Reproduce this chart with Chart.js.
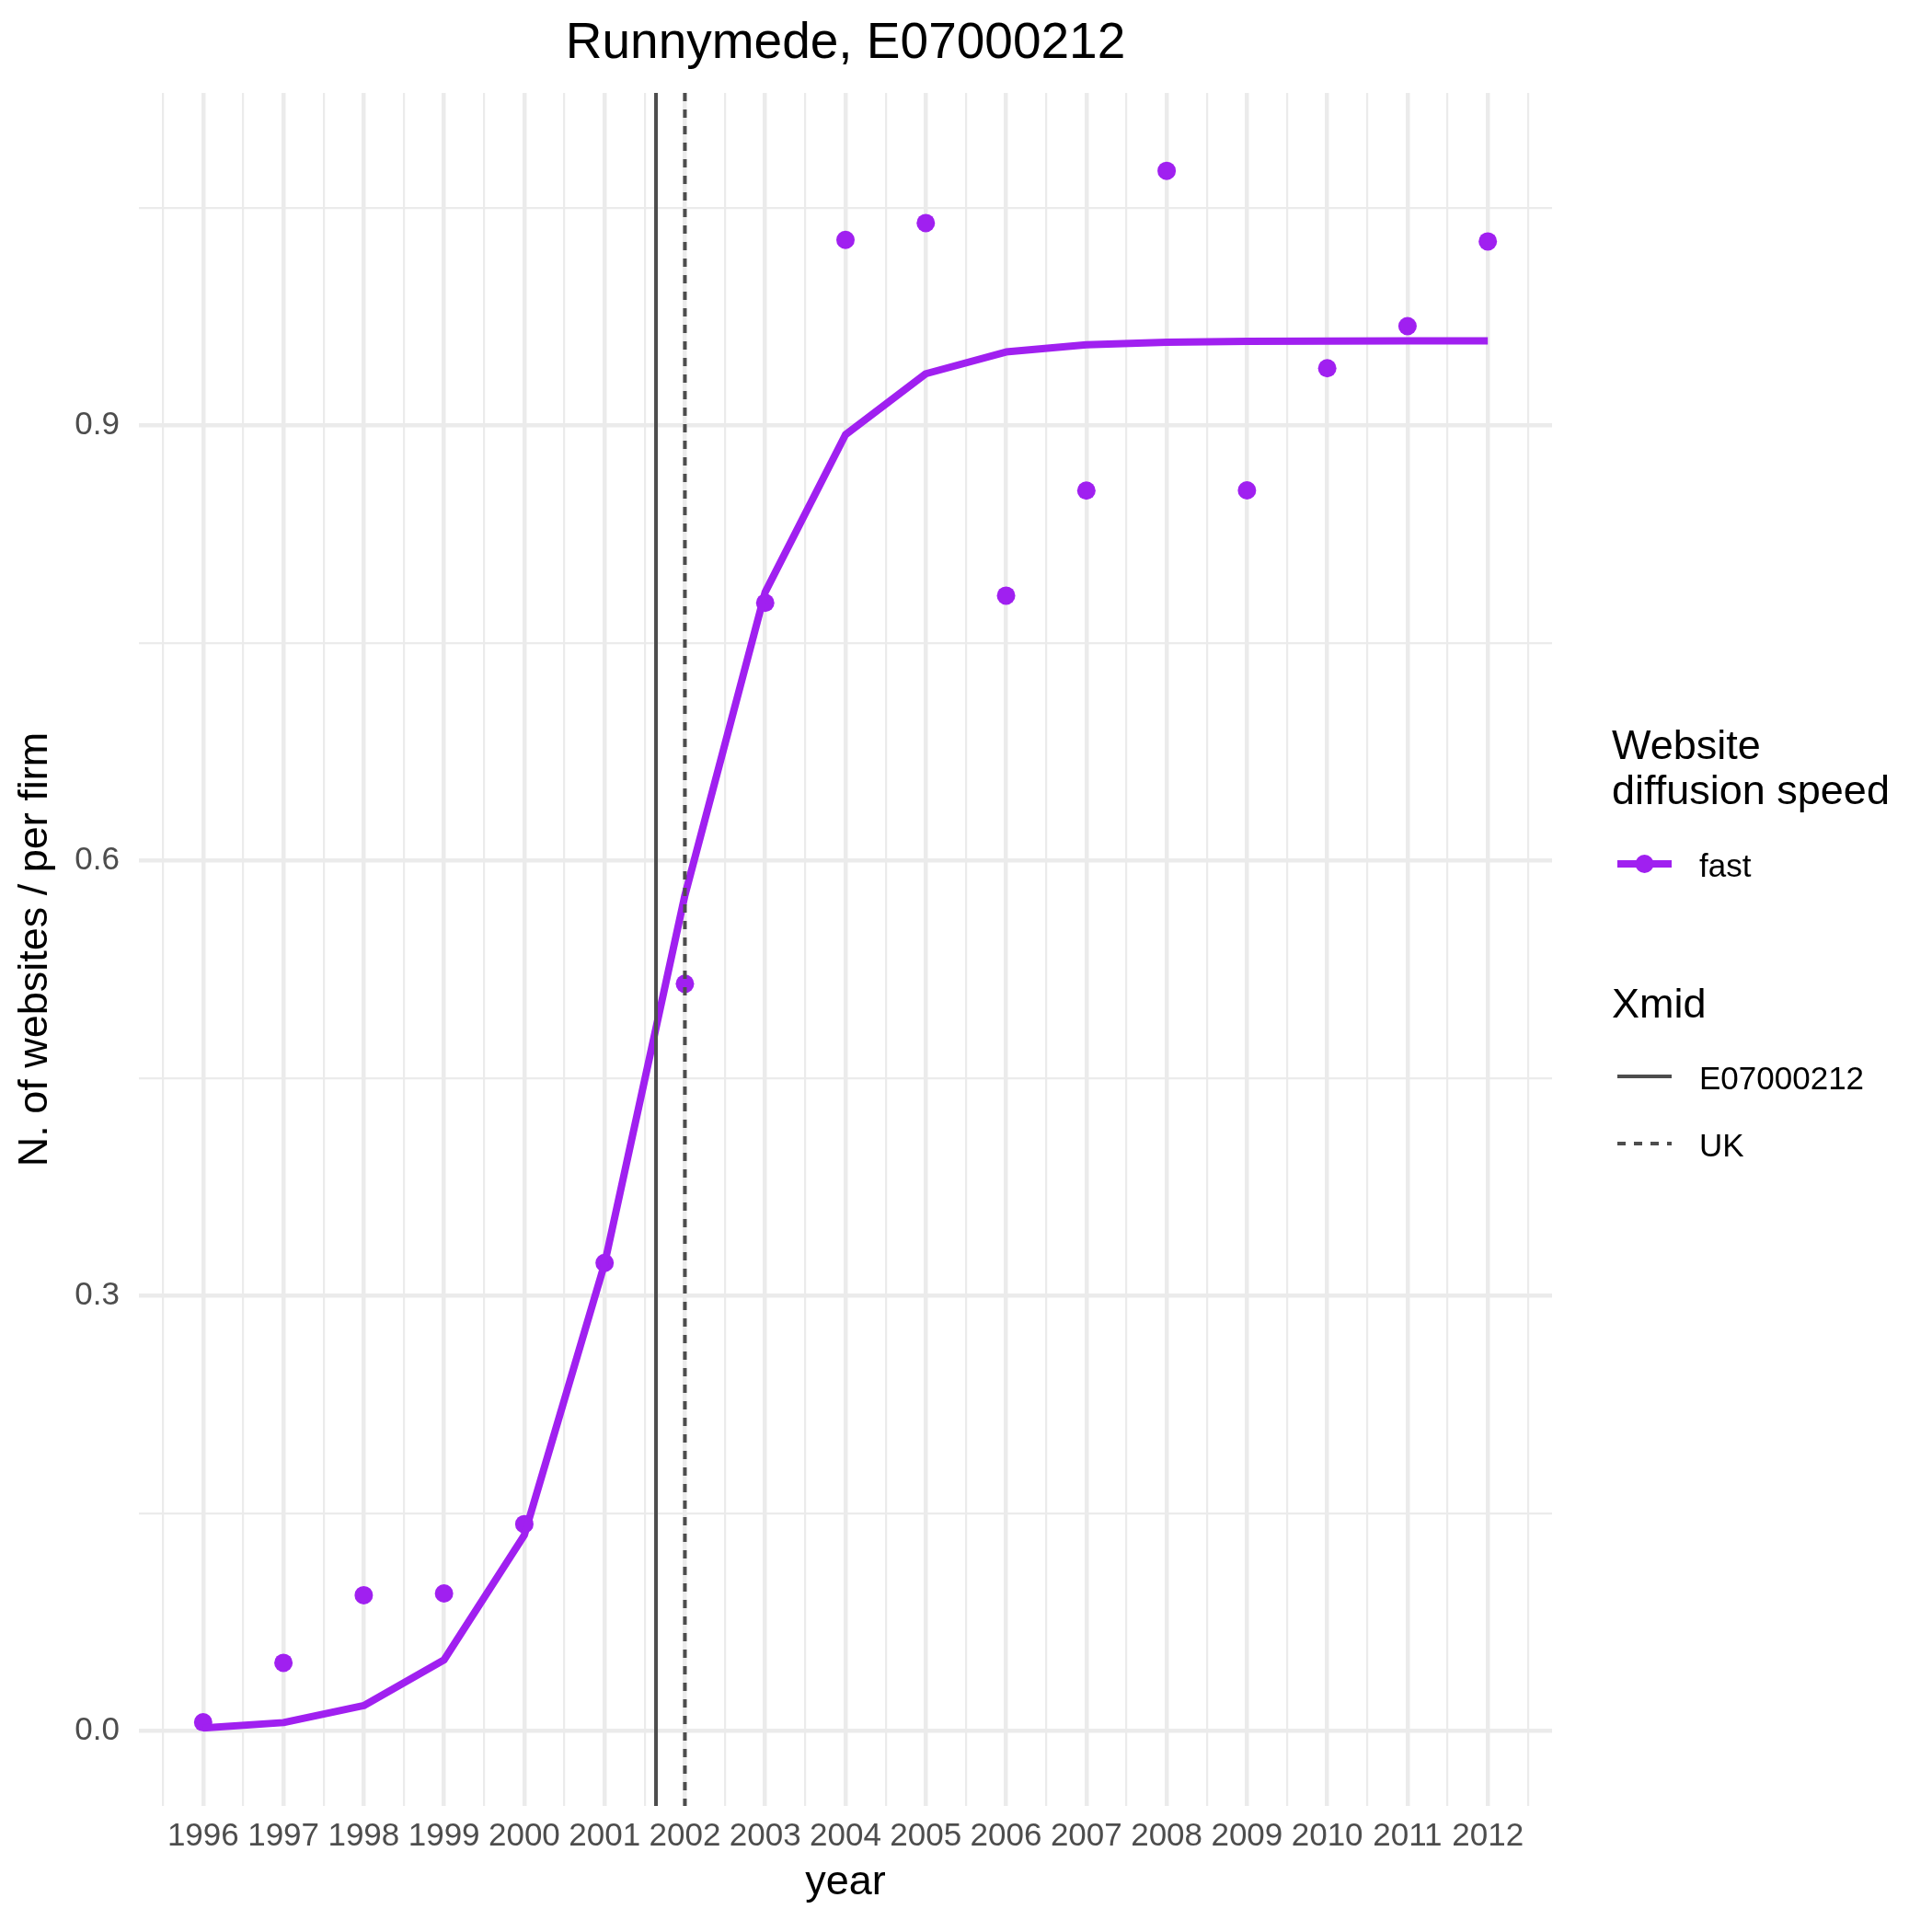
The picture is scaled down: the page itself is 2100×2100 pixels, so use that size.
<!DOCTYPE html>
<html>
<head>
<meta charset="utf-8">
<script src="https://cdn.jsdelivr.net/npm/chart.js@4/dist/chart.umd.min.js"></script>
<style>
  html, body { margin: 0; padding: 0; background: #fff; }
  canvas { display: block; }
</style>
</head>
<body>
<canvas id="chart" width="2100" height="2100" style="width:2100px;height:2100px"></canvas>
<script>
// data
const years    = [1996,1997,1998,1999,2000,2001,2002,2003,2004,2005,2006,2007,2008,2009,2010,2011,2012];
const observed = [0.006,0.047,0.0936,0.0948,0.1426,0.3226,0.515,0.7776,1.0278,1.0394,0.7826,0.855,1.0754,0.8551,0.9393,0.9683,1.0267];
const fitted   = [0.002,0.0058,0.0175,0.049,0.135,0.322,0.576,0.785,0.8935,0.9355,0.9505,0.9555,0.9572,0.9578,0.958,0.9581,0.9581];
const xmidValues = [2001.64, 2002.0];
const xmidLabels = ['E07000212', 'UK'];
const yTickLabels = [0, 0.3, 0.6, 0.9];
const seriesLabel = 'fast';

const PURPLE = '#A020F0';
const DARK   = '#4D4D4D';
const GRID   = '#EBEBEB';
const FONT   = "'Liberation Sans', Arial, Helvetica, sans-serif";

// ggplot-style 5% expansion
const xSpan = years[years.length - 1] - years[0];
const xMin = years[0] - 0.05 * xSpan, xMax = years[years.length - 1] + 0.05 * xSpan;
const allY = observed.concat(fitted);
const yLo = Math.min(...allY), yHi = Math.max(...allY);
const yMin = yLo - 0.05 * (yHi - yLo), yMax = yHi + 0.05 * (yHi - yLo);

// major + minor grid positions
const xGrid = [];
years.forEach(y => { xGrid.push(y - 0.5, y); });
xGrid.push(years[years.length - 1] + 0.5);
const yStep = yTickLabels[1] - yTickLabels[0];
const yGrid = [];
for (let v = yTickLabels[0]; v <= yMax + 1e-9; v += yStep / 2) yGrid.push(+v.toFixed(6));

const isMajorX = v => years.includes(v);
const isMajorY = v => yTickLabels.some(t => Math.abs(t - v) < 1e-6);

const overlay = {
  id: 'overlay',
  afterDatasetsDraw(chart) {
    const { ctx, chartArea: a, scales: { x } } = chart;
    ctx.save();
    ctx.beginPath();
    ctx.rect(a.left, a.top, a.right - a.left, a.bottom - a.top);
    ctx.clip();
    ctx.strokeStyle = DARK;
    ctx.lineWidth = 4;
    xmidValues.forEach((v, i) => {
      const px = x.getPixelForValue(v);
      ctx.setLineDash(i === 0 ? [] : [9, 9]);
      ctx.beginPath();
      ctx.moveTo(px, a.top);
      ctx.lineTo(px, a.bottom);
      ctx.stroke();
    });
    ctx.restore();
  },
  afterDraw(chart) {
    const { ctx, chartArea: a } = chart;
    ctx.save();
    ctx.fillStyle = '#000';
    ctx.textBaseline = 'alphabetic';

    // title
    ctx.textAlign = 'center';
    ctx.font = `55px ${FONT}`;
    ctx.fillText('Runnymede, E07000212', (a.left + a.right) / 2, 63);

    // legend
    const lx = a.right + 65;
    const kx0 = lx + 6, kx1 = lx + 65, tx = lx + 95;
    ctx.textAlign = 'left';
    ctx.font = `45px ${FONT}`;
    ctx.fillText('Website', lx, 825);
    ctx.fillText('diffusion speed', lx, 874);

    ctx.strokeStyle = PURPLE;
    ctx.lineWidth = 8;
    ctx.beginPath(); ctx.moveTo(kx0, 939); ctx.lineTo(kx1, 939); ctx.stroke();
    ctx.fillStyle = PURPLE;
    ctx.beginPath(); ctx.arc((kx0 + kx1) / 2, 939, 10, 0, Math.PI * 2); ctx.fill();
    ctx.fillStyle = '#000';
    ctx.font = `35px ${FONT}`;
    ctx.fillText(seriesLabel, tx, 953);

    ctx.font = `45px ${FONT}`;
    ctx.fillText('Xmid', lx, 1106);

    ctx.strokeStyle = DARK;
    ctx.lineWidth = 4;
    [1170, 1243].forEach((ky, i) => {
      ctx.setLineDash(i === 0 ? [] : [9, 9]);
      ctx.beginPath(); ctx.moveTo(kx0, ky); ctx.lineTo(kx1, ky); ctx.stroke();
      ctx.font = `35px ${FONT}`;
      ctx.fillText(xmidLabels[i], tx, ky + 14);
    });
    ctx.restore();
  }
};

new Chart(document.getElementById('chart'), {
  type: 'scatter',
  data: {
    datasets: [
      {
        label: seriesLabel + ' fitted',
        data: years.map((y, i) => ({ x: y, y: fitted[i] })),
        showLine: true,
        borderColor: PURPLE,
        borderWidth: 8,
        borderJoinStyle: 'round',
        borderCapStyle: 'butt',
        pointRadius: 0,
        tension: 0,
        order: 1
      },
      {
        label: seriesLabel,
        data: years.map((y, i) => ({ x: y, y: observed[i] })),
        showLine: false,
        backgroundColor: PURPLE,
        pointBackgroundColor: PURPLE,
        pointBorderWidth: 0,
        pointRadius: 10,
        order: 2
      }
    ]
  },
  options: {
    responsive: false,
    devicePixelRatio: 1,
    animation: false,
    layout: { padding: { top: 101, right: 413, bottom: 0, left: 0 } },
    plugins: { legend: { display: false }, tooltip: { enabled: false } },
    scales: {
      x: {
        type: 'linear',
        min: xMin, max: xMax,
        afterBuildTicks: s => { s.ticks = xGrid.map(v => ({ value: v })); },
        afterFit: s => { s.height = 137; },
        border: { display: false },
        grid: {
          color: GRID,
          drawTicks: false,
          lineWidth: c => (c.tick && isMajorX(c.tick.value)) ? 4.5 : 2.2
        },
        ticks: {
          autoSkip: false, maxRotation: 0, padding: 12,
          color: DARK, font: { family: FONT, size: 35 },
          callback: v => isMajorX(v) ? String(v) : ''
        },
        title: {
          display: true, text: 'year', color: '#000',
          font: { family: FONT, size: 45 },
          padding: { top: 0, bottom: 26 }
        }
      },
      y: {
        min: yMin, max: yMax,
        afterBuildTicks: s => { s.ticks = yGrid.map(v => ({ value: v })); },
        afterFit: s => { s.width = 151; },
        border: { display: false },
        grid: {
          color: GRID,
          drawTicks: false,
          lineWidth: c => (c.tick && isMajorY(c.tick.value)) ? 4.5 : 2.2
        },
        ticks: {
          autoSkip: false, padding: 21,
          color: DARK, font: { family: FONT, size: 35 },
          callback: v => isMajorY(v) ? v.toFixed(1) : ''
        },
        title: {
          display: true, text: 'N. of websites / per firm', color: '#000',
          font: { family: FONT, size: 45 },
          padding: { top: 12, bottom: 0 }
        }
      }
    }
  },
  plugins: [overlay]
});
</script>
</body>
</html>
